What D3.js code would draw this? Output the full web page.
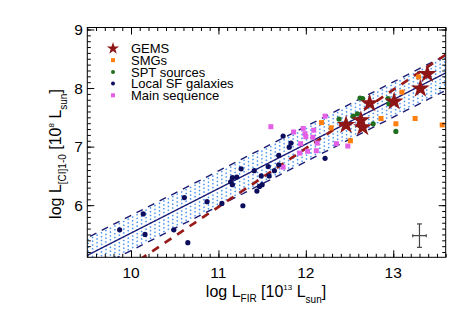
<!DOCTYPE html>
<html>
<head>
<meta charset="utf-8">
<script src="https://cdn.jsdelivr.net/npm/d3@7"></script>
<style>
  body { margin: 0; background: #fff; }
  text { font-family: "Liberation Sans", Arial, Helvetica, sans-serif; fill: #000; }
</style>
</head>
<body>
<div class="chart"></div>
<script>
// data: [log LFIR, log LCI]
var gems = [[12.46, 7.37], [12.63, 7.45], [12.65, 7.33], [12.73, 7.74], [13.01, 7.77], [13.31, 7.99], [13.39, 8.24]];
var smgs = [[12.18, 7.41], [12.29, 7.32], [12.51, 7.10], [12.86, 7.48], [13.03, 7.39], [13.10, 7.93], [13.25, 7.48], [13.29, 8.19], [13.56, 7.37]];
var spt = [[12.38, 7.47], [12.54, 7.52], [12.59, 7.56], [12.62, 7.83], [12.65, 7.82], [12.77, 7.39], [12.94, 7.82], [12.95, 7.73], [13.03, 7.26]];
var localSF = [[9.87, 5.58], [10.14, 5.85], [10.16, 5.50], [10.49, 5.58], [10.61, 6.13], [10.65, 5.36], [10.87, 6.06],
  [11.04, 6.03], [11.14, 6.40], [11.16, 6.47], [11.16, 6.35], [11.21, 6.48], [11.26, 6.62], [11.28, 5.99], [11.41, 6.59],
  [11.44, 6.24], [11.47, 6.32], [11.49, 6.50], [11.50, 6.35], [11.57, 6.66], [11.58, 6.50], [11.64, 6.59], [11.69, 6.69],
  [11.69, 6.85], [11.74, 7.18], [11.81, 6.99], [11.83, 7.06], [12.22, 6.80]];
var mainSeq = [[11.60, 7.34], [11.74, 6.65], [11.86, 7.25], [11.93, 6.89], [11.94, 7.05], [11.97, 7.31], [11.99, 7.22],
  [12.00, 7.17], [12.02, 6.92], [12.08, 7.16], [12.09, 7.28], [12.12, 6.93], [12.13, 7.06], [12.22, 7.52], [12.35, 7.05], [12.48, 7.01]];

// fit (solid + scatter band) and the unity-slope relation (red dashes)
var fitSlope = 0.76, fitIntercept = -2.076, fitScatter = 0.3;
var redSlope = 1.0, redIntercept = -5.03;
// typical error bar
var errBar = {x: 13.3, y: 5.48, dx: 0.077, dy: 0.2};

var xTicks = [10, 11, 12, 13];
var yTicks = [6, 7, 8, 9];
var legendNames = ["GEMS", "SMGs", "SPT sources", "Local SF galaxies", "Main sequence"];

var svgWidth = 472, svgHeight = 314;
var margin = {top: 27.5, right: 26.3, bottom: 56.7, left: 87.3};
var width = svgWidth - margin.left - margin.right;
var height = svgHeight - margin.top - margin.bottom;

var navy = "#1b1b74", red = "#9a1a1a";

var svg = d3.select(".chart").append("svg")
  .attr("width", svgWidth)
  .attr("height", svgHeight);

var g = svg.append("g").attr("transform", `translate(${margin.left},${margin.top})`);

var x = d3.scaleLinear().domain([9.5, 13.6]).range([0, width]);
var y = d3.scaleLinear().domain([5.11, 9.034]).range([height, 0]);

g.append("clipPath").attr("id", "clip")
  .append("rect").attr("width", width).attr("height", height);

var plot = g.append("g").attr("clip-path", "url(#clip)");

var line = d3.line().x(d => x(d[0])).y(d => y(d[1]));
function fitLine(slope, icpt, off) {
  return [9.4, 13.7].map(v => [v, slope * v + icpt + off]);
}

// dotted band
d3.range(-0.26, 0.27, 0.065).forEach(function(off) {
  plot.append("path")
    .attr("d", line(fitLine(fitSlope, fitIntercept, off)))
    .attr("fill", "none")
    .attr("stroke", "#4a94f2")
    .attr("stroke-width", 1.5)
    .attr("stroke-dasharray", "1.5,3.5");
});

plot.append("path")
  .attr("d", line(fitLine(fitSlope, fitIntercept, 0)))
  .attr("fill", "none").attr("stroke", navy).attr("stroke-width", 1.3);

[-fitScatter, fitScatter].forEach(function(off) {
  plot.append("path")
    .attr("d", line(fitLine(fitSlope, fitIntercept, off)))
    .attr("fill", "none").attr("stroke", navy).attr("stroke-width", 1.4)
    .attr("stroke-dasharray", "7,6");
});

plot.append("path")
  .attr("d", line([[10.1, 10.1 * redSlope + redIntercept], [13.7, 13.7 * redSlope + redIntercept]]))
  .attr("fill", "none").attr("stroke", red).attr("stroke-width", 2.7)
  .attr("stroke-dasharray", "8,7");

// points
function squares(data, color, s) {
  plot.selectAll(null).data(data).enter().append("rect")
    .attr("x", d => x(d[0]) - s / 2)
    .attr("y", d => y(d[1]) - s / 2)
    .attr("width", s).attr("height", s)
    .attr("fill", color);
}
function dots(data, color, r) {
  plot.selectAll(null).data(data).enter().append("circle")
    .attr("cx", d => x(d[0]))
    .attr("cy", d => y(d[1]))
    .attr("r", r)
    .attr("fill", color);
}
squares(mainSeq, "#e25fe6", 5);
dots(localSF, "#0d0d5e", 2.6);
dots(spt, "#1f6e1f", 2.6);
squares(smgs, "#ff7f0e", 5);

var star = d3.symbol().type(d3.symbolStar);
plot.selectAll(null).data(gems).enter().append("path")
  .attr("d", star.size(110)())
  .attr("transform", d => `translate(${x(d[0])},${y(d[1])})`)
  .attr("fill", "#8e1616");

// error bar
var eb = g.append("g").attr("stroke", "#444").attr("stroke-width", 1.2);
var ex = x(errBar.x), ey = y(errBar.y);
var ex0 = x(errBar.x - errBar.dx), ex1 = x(errBar.x + errBar.dx);
var ey0 = y(errBar.y - errBar.dy), ey1 = y(errBar.y + errBar.dy);
eb.append("line").attr("x1", ex0).attr("x2", ex1).attr("y1", ey).attr("y2", ey);
eb.append("line").attr("x1", ex).attr("x2", ex).attr("y1", ey0).attr("y2", ey1);
eb.append("line").attr("x1", ex - 2.5).attr("x2", ex + 2.5).attr("y1", ey0).attr("y2", ey0);
eb.append("line").attr("x1", ex - 2.5).attr("x2", ex + 2.5).attr("y1", ey1).attr("y2", ey1);
eb.append("line").attr("x1", ex0).attr("x2", ex0).attr("y1", ey - 1.5).attr("y2", ey + 1.5);
eb.append("line").attr("x1", ex1).attr("x2", ex1).attr("y1", ey - 1.5).attr("y2", ey + 1.5);

// frame with inward ticks on all sides
var xMinor = d3.range(9.5, 13.61, 0.1).map(v => +v.toFixed(1));
var yMinor = d3.range(5.2, 9.01, 0.1).map(v => +v.toFixed(1));

function axisTicks(sel, axisFn, scale, major, minor) {
  sel.call(axisFn(scale).tickValues(minor).tickSize(-3.5).tickFormat(""));
  sel.append("g").call(axisFn(scale).tickValues(major).tickSize(-7).tickFormat(""));
  sel.selectAll(".domain").remove();
  sel.selectAll("line").attr("stroke", "#000");
}
axisTicks(g.append("g").attr("transform", `translate(0,${height})`), d3.axisBottom, x, xTicks, xMinor);
axisTicks(g.append("g"), d3.axisTop, x, xTicks, xMinor);
axisTicks(g.append("g"), d3.axisLeft, y, yTicks, yMinor);
axisTicks(g.append("g").attr("transform", `translate(${width},0)`), d3.axisRight, y, yTicks, yMinor);

g.append("rect").attr("width", width).attr("height", height)
  .attr("fill", "none").attr("stroke", "#000").attr("stroke-width", 1);

// tick labels
g.selectAll(null).data(xTicks).enter().append("text")
  .attr("x", d => x(d)).attr("y", height + 20.5)
  .attr("text-anchor", "middle").style("font-size", "15.5px")
  .text(d => d);
g.selectAll(null).data(yTicks).enter().append("text")
  .attr("x", -4.5).attr("y", d => y(d) + 5.5)
  .attr("text-anchor", "end").style("font-size", "15.5px")
  .text(d => d);

// axis titles
var xt = svg.append("text")
  .attr("x", 266).attr("y", 296.7)
  .attr("text-anchor", "middle").style("font-size", "16px");
xt.append("tspan").text("log L");
xt.append("tspan").attr("dy", 5).style("font-size", "10px").text("FIR");
xt.append("tspan").attr("dy", -5).text(" [10");
xt.append("tspan").attr("dy", -7).style("font-size", "8px").text("13");
xt.append("tspan").attr("dy", 7).text(" L");
xt.append("tspan").attr("dy", 6).style("font-size", "10px").text("sun");
xt.append("tspan").attr("dy", -6).text("]");

var yt = svg.append("text")
  .attr("transform", "translate(61,154) rotate(-90)")
  .attr("text-anchor", "middle").style("font-size", "16px");
yt.append("tspan").text("log L");
yt.append("tspan").attr("dy", 5).style("font-size", "10px").text("[CI]1-0");
yt.append("tspan").attr("dy", -5).text(" [10");
yt.append("tspan").attr("dy", -7).style("font-size", "8px").text("8");
yt.append("tspan").attr("dy", 7).text(" L");
yt.append("tspan").attr("dy", 6).style("font-size", "10px").text("sun");
yt.append("tspan").attr("dy", -6).text("]");

// legend
var lg = svg.append("g").attr("transform", "translate(113,48.5)");
var rowH = 11.7;
lg.append("path").attr("d", d3.symbol().type(d3.symbolStar).size(46)()).attr("fill", "#8e1616");
lg.append("rect").attr("x", -2).attr("y", rowH - 2).attr("width", 4).attr("height", 4).attr("fill", "#ff7f0e");
lg.append("circle").attr("cy", 2 * rowH).attr("r", 2).attr("fill", "#1f6e1f");
lg.append("circle").attr("cy", 3 * rowH).attr("r", 2).attr("fill", "#0d0d5e");
lg.append("rect").attr("x", -2).attr("y", 4 * rowH - 2).attr("width", 4).attr("height", 4).attr("fill", "#e25fe6");
lg.selectAll(null).data(legendNames).enter().append("text")
  .attr("x", 18).attr("y", (d, i) => i * rowH + 4.6)
  .style("font-size", "13px")
  .text(d => d);
</script>
</body>
</html>
